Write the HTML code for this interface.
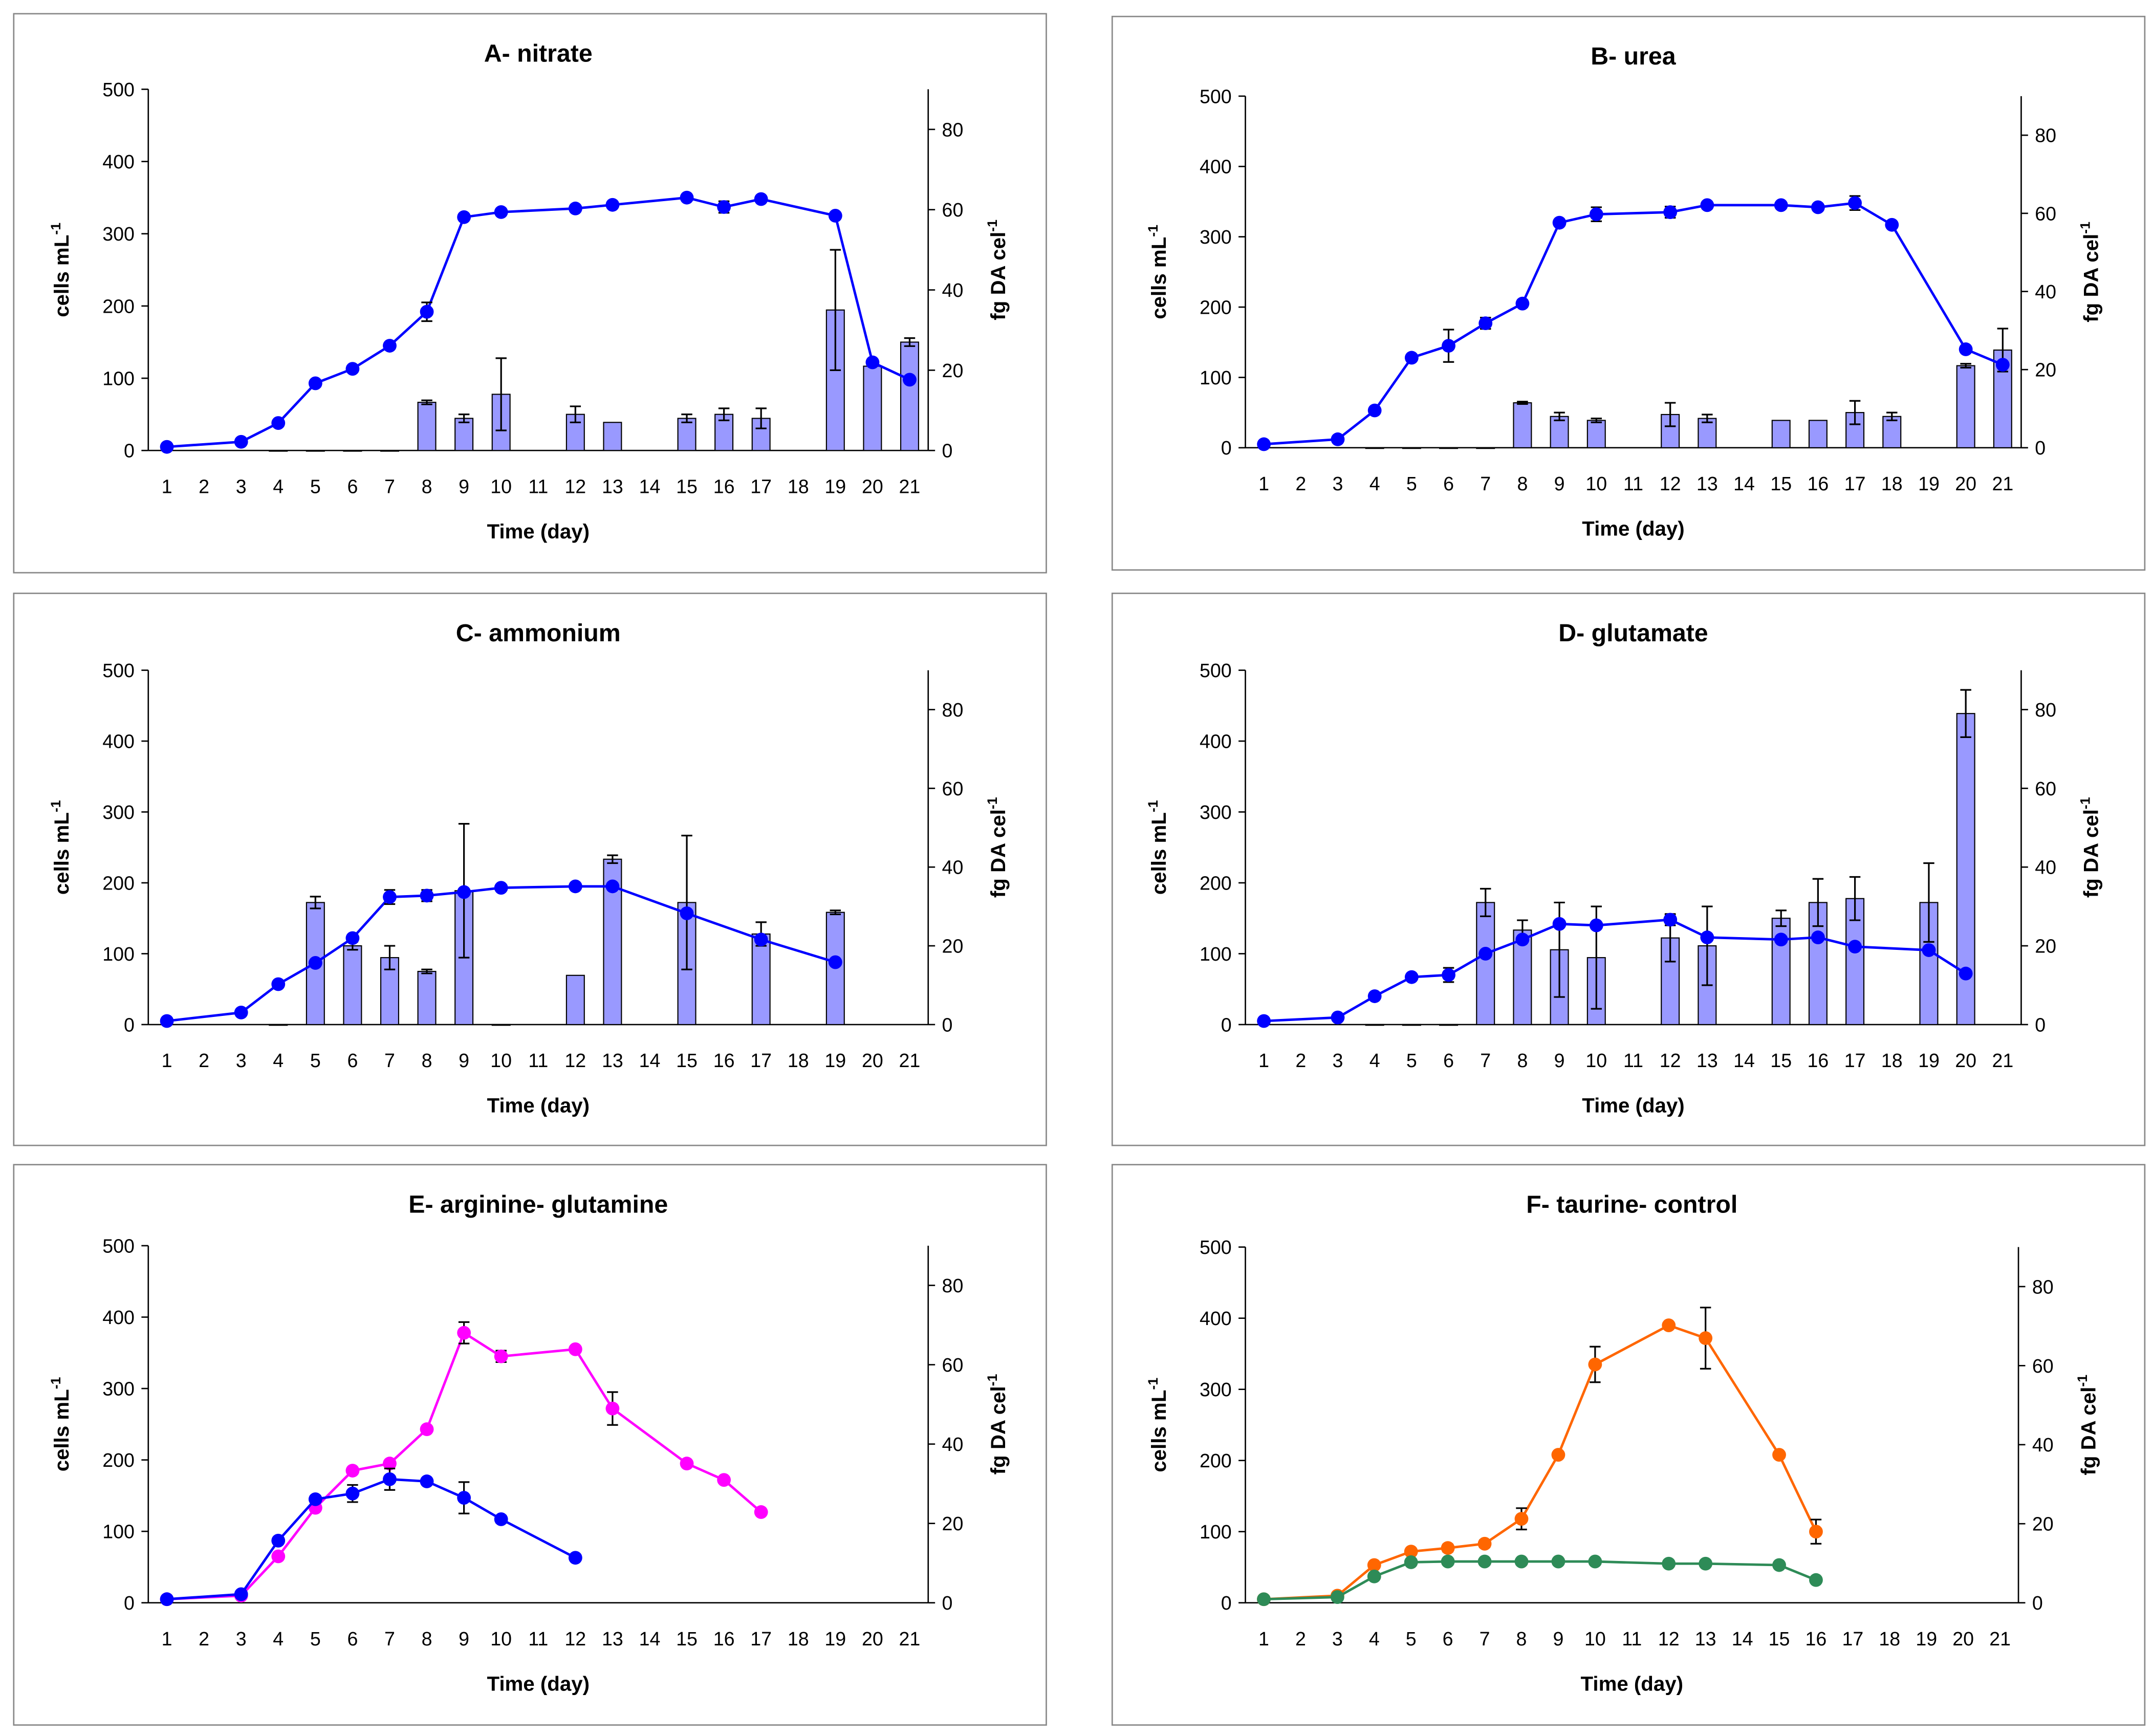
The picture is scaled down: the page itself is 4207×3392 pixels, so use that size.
<!DOCTYPE html>
<html><head><meta charset="utf-8"><style>html,body{margin:0;padding:0;background:#fff}svg{display:block}text{font-family:"Liberation Sans",Arial,sans-serif}</style></head>
<body>
<svg id="c" width="4207" height="3392" viewBox="0 0 1568 1264" preserveAspectRatio="none" xmlns="http://www.w3.org/2000/svg"></svg>
<script>
// ---- data ----
const daysA=[1,3,4,5,6,7,8,9,10,12,13,15,16,17,19,20,21];
const cellsA=[5,12,38,93,113,145,192,323,330,335,340,350,337,348,325,122,98];
const cellsErrA=[0,0,0,0,0,0,13,0,0,0,0,0,8,0,0,0,0];
const barDaysA=[4,5,6,7,8,9,10,12,13,15,16,17,19,20,21];
const barValsA=[0,0,0,0,12,8,14,9,7,8,9,8,35,21,27];
const barErrA=[0,0,0,0,0.5,1,9,2,0,1,1.5,2.5,15,0,1];

const daysB=[1,3,4,5,6,7,8,9,10,12,13,15,16,17,18,20,21];
const cellsB=[5,12,53,128,145,177,205,320,332,335,345,345,342,348,317,140,118];
const cellsErrB=[0,0,0,0,23,8,5,0,10,8,5,0,0,10,0,0,0];
const barDaysB=[4,5,6,7,8,9,10,12,13,15,16,17,18,20,21];
const barValsB=[0,0,0,0,11.5,8,7,8.5,7.5,7,7,9,8,21,25];
const barErrB=[0,0,0,0,0.3,1,0.5,3,1,0,0,3,1,0.5,5.5];

const daysC=[1,3,4,5,6,7,8,9,10,12,13,15,17,19];
const cellsC=[5,17,57,87,122,180,182,187,193,195,195,157,120,88];
const cellsErrC=[0,0,0,0,0,10,8,0,0,0,0,0,0,0];
const barDaysC=[4,5,6,7,8,9,10,12,13,15,17,19];
const barValsC=[0,31,20,17,13.5,34,0,12.5,42,31,23,28.5];
const barErrC=[0,1.5,1,3,0.5,17,0,0,1,17,3,0.5];

const daysD=[1,3,4,5,6,7,8,9,10,12,13,15,16,17,19,20];
const cellsD=[5,10,40,67,70,100,120,142,140,148,123,120,123,110,105,72];
const cellsErrD=[0,0,0,0,10,0,0,0,0,8,0,0,0,0,0,0];
const barDaysD=[4,5,6,7,8,9,10,12,13,15,16,17,19,20];
const barValsD=[0,0,0,31,24,19,17,22,20,27,31,32,31,79];
const barErrD=[0,0,0,3.5,2.5,12,13,6,10,2,6,5.5,10,6];

const daysE1=[1,3,4,5,6,7,8,9,10,12,13,15,16,17];
const cellsE1=[5,10,65,133,185,195,243,378,345,355,272,195,172,127];
const errE1=[0,0,0,0,0,0,0,15,8,0,23,0,0,4];
const daysE2=[1,3,4,5,6,7,8,9,10,12];
const cellsE2=[5,12,87,145,153,173,170,147,117,63];
const errE2=[0,0,0,0,12,15,0,22,5,0];

const daysF1=[1,3,4,5,6,7,8,9,10,12,13,15,16];
const cellsF1=[5,10,53,72,77,83,118,208,335,390,372,208,100];
const errF1=[0,0,0,0,5,5,15,0,25,0,43,0,17];
const daysF2=[1,3,4,5,6,7,8,9,10,12,13,15,16];
const cellsF2=[5,8,37,57,58,58,58,58,58,55,55,53,32];

const leftTicks=[0,100,200,300,400,500];
const rightTicks=[0,20,40,60,80];
const xCats=[1,2,3,4,5,6,7,8,9,10,11,12,13,14,15,16,17,18,19,20,21];

// ---- drawing ----
const S=document.getElementById('c');const NS='http://www.w3.org/2000/svg';
function mk(t,a,p){const e=document.createElementNS(NS,t);for(const k in a)e.setAttribute(k,a[k]);(p||S).appendChild(e);return e;}
function txt(x,y,s,a,p){const e=mk('text',Object.assign({x:x,y:y},a),p);e.textContent=s;return e;}

function panel(P){
  const g=mk('g',{});
  
  
  const fr=mk('rect',{x:P.fx,y:P.fy,width:752,height:P.fh,fill:'#fff',stroke:'#888','stroke-width':1},g);
  
  const L=P.l,R=P.r,T=P.t,B=P.b;
  const yl=v=>B-(v/500)*(B-T), yr=v=>B-(v/90)*(B-T);
  const bw=(R-L)/21, xc=d=>L+(d-0.5)*bw;
  const t=txt((L+R)/2,P.fy+35,P.title,{'font-size':18,'font-weight':'bold','text-anchor':'middle'},g);
  
  // axes
  mk('line',{x1:L,y1:T,x2:L,y2:B,stroke:'#000','stroke-width':1},g);
  mk('line',{x1:R,y1:T,x2:R,y2:B,stroke:'#000','stroke-width':1},g);
  mk('line',{x1:L,y1:B,x2:R,y2:B,stroke:'#000','stroke-width':1},g);
  leftTicks.forEach(v=>{const y=yl(v);mk('line',{x1:L-5,y1:y,x2:L,y2:y,stroke:'#000'},g);
    const e=txt(L-10,y+5,String(v),{'font-size':14,'text-anchor':'end'},g);});
  rightTicks.forEach(v=>{const y=yr(v);mk('line',{x1:R,y1:y,x2:R+5,y2:y,stroke:'#000'},g);
    const e=txt(R+10,y+5,String(v),{'font-size':14},g);});
  xCats.forEach(d=>{const e=txt(xc(d),B+31,String(d),{'font-size':14,'text-anchor':'middle'},g);});
  const xt=txt((L+R)/2,B+64,'Time (day)',{'font-size':15,'font-weight':'bold','text-anchor':'middle'},g);
  
  const ly=(T+B)/2;
  const lt=mk('text',{x:0,y:0,'font-size':15,'font-weight':'bold','text-anchor':'middle',transform:`translate(${L-58},${ly}) rotate(-90)`},g);
  lt.innerHTML='cells mL<tspan dy="-6" font-size="10">-1</tspan>';
  
  const rt=mk('text',{x:0,y:0,'font-size':15,'font-weight':'bold','text-anchor':'middle',transform:`translate(${R+56},${ly}) rotate(-90)`},g);
  rt.innerHTML='fg DA cel<tspan dy="-6" font-size="10">-1</tspan>';
  
  // bars
  if(P.bd){P.bd.forEach((d,i)=>{const v=P.bv[i],x=xc(d)-6.5,y=yr(v);
    const r=mk('rect',{x:x,y:y,width:13,height:Math.max(B-y,0.5),fill:'#9999ff',stroke:'#000','stroke-width':0.8},g);
    
    const e=P.be[i];if(e>0){const x0=xc(d);mk('path',{d:`M${x0},${yr(v-e)}V${yr(v+e)}M${x0-4},${yr(v+e)}H${x0+4}M${x0-4},${yr(v-e)}H${x0+4}`,stroke:'#000','stroke-width':1.2,fill:'none'},g);}
  });}
  // lines
  P.series.forEach(s=>{
    const pts=s.d.map((d,i)=>[xc(d),yl(s.v[i])]);
    const pl=mk('polyline',{points:pts.map(p=>p.join(',')).join(' '),fill:'none',stroke:s.c,'stroke-width':1.8},g);
    
    s.d.forEach((d,i)=>{const e=s.e?s.e[i]:0,x0=xc(d),v=s.v[i];
      if(e>0)mk('path',{d:`M${x0},${yl(v-e)}V${yl(v+e)}M${x0-4},${yl(v+e)}H${x0+4}M${x0-4},${yl(v-e)}H${x0+4}`,stroke:'#000','stroke-width':1.2,fill:'none'},g);
      const c=mk('circle',{cx:x0,cy:yl(v),r:5,fill:s.c},g);
      });
  });
}
const BL='#0000ff';
panel({name:'panel-a-nitrate',title:'A- nitrate',fx:10,fy:10,fh:407,l:108,r:676,t:65,b:328,bd:barDaysA,bv:barValsA,be:barErrA,series:[{d:daysA,v:cellsA,e:cellsErrA,c:BL}]});
panel({name:'panel-b-urea',title:'B- urea',fx:810,fy:12,fh:403,l:907,r:1472,t:70,b:326,bd:barDaysB,bv:barValsB,be:barErrB,series:[{d:daysB,v:cellsB,e:cellsErrB,c:BL}]});
panel({name:'panel-c-ammonium',title:'C- ammonium',fx:10,fy:432,fh:402,l:108,r:676,t:488,b:746,bd:barDaysC,bv:barValsC,be:barErrC,series:[{d:daysC,v:cellsC,e:cellsErrC,c:BL}]});
panel({name:'panel-d-glutamate',title:'D- glutamate',fx:810,fy:432,fh:402,l:907,r:1472,t:488,b:746,bd:barDaysD,bv:barValsD,be:barErrD,series:[{d:daysD,v:cellsD,e:cellsErrD,c:BL}]});
panel({name:'panel-e-arginine-glutamine',title:'E- arginine- glutamine',fx:10,fy:848,fh:408,l:108,r:676,t:907,b:1167,series:[{d:daysE1,v:cellsE1,e:errE1,c:'#ff00ff'},{d:daysE2,v:cellsE2,e:errE2,c:BL}]});
panel({name:'panel-f-taurine-control',title:'F- taurine- control',fx:810,fy:848,fh:408,l:907,r:1470,t:908,b:1167,series:[{d:daysF1,v:cellsF1,e:errF1,c:'#ff6600'},{d:daysF2,v:cellsF2,c:'#2e8b57'}]});
</script>
</body></html>
